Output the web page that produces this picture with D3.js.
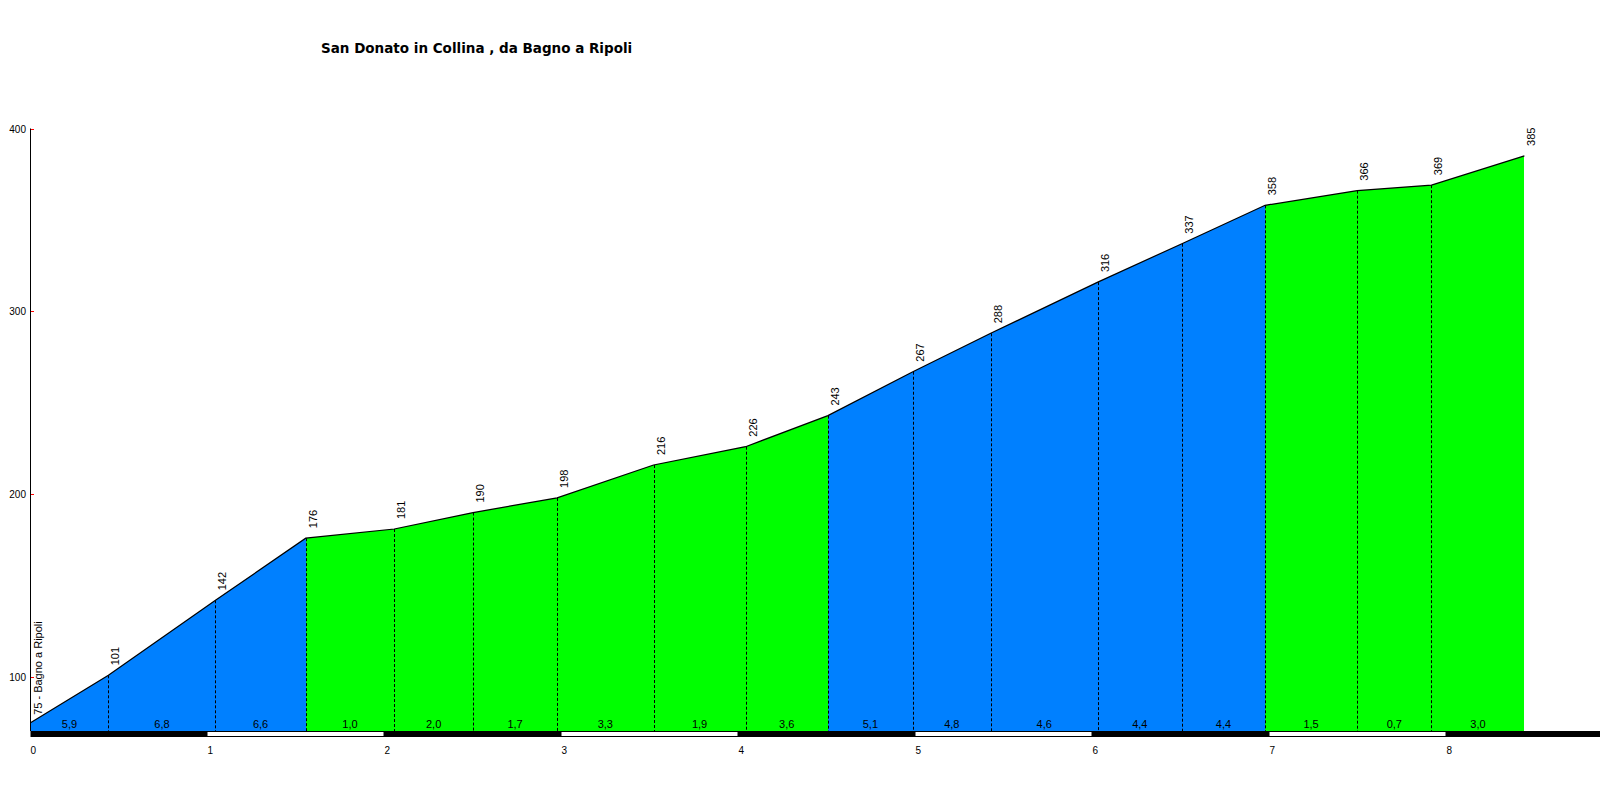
<!DOCTYPE html>
<meta charset="utf-8">
<html>
<head>
    <title>San Donato in Collina</title>
    <script src="https://d3js.org/d3.v7.min.js"></script>
    <style>
        body { margin: 0; background: #fff; }
        text { font-family: Arial, "Liberation Sans", sans-serif; }
    </style>
</head>
<body>
<script>
    // profile points: km from start and altitude (m)
    var dist = [0, 0.44, 1.045, 1.555, 2.055, 2.5, 2.975, 3.52, 4.04, 4.505, 4.985, 5.425, 6.03, 6.505, 6.975, 7.495, 7.915, 8.44];
    var elev = [75, 101, 142, 176, 181, 190, 198, 216, 226, 243, 267, 288, 316, 337, 358, 366, 369, 385];
    // gradient of each segment (%)
    var grade = [5.9, 6.8, 6.6, 1.0, 2.0, 1.7, 3.3, 1.9, 3.6, 5.1, 4.8, 4.6, 4.4, 4.4, 1.5, 0.7, 3.0];
    var startName = "Bagno a Ripoli";
    var title = "San Donato in Collina , da Bagno a Ripoli";
    var yTicks = [100, 200, 300, 400];
    var kmTicks = [0, 1, 2, 3, 4, 5, 6, 7, 8];

    var width = 1600, height = 800;

    var svg = d3.select("body").append("svg")
        .attr("width", width)
        .attr("height", height);

    var x = d3.scaleLinear().domain([0, 8]).range([30.5, 1446.5]);
    var y = d3.scaleLinear().domain([70, 400]).range([732, 128.5]);

    var color = d3.scaleThreshold()
        .domain([4])
        .range(["#00ff00", "#0080ff"]);

    var fmt = function (v) { return d3.format(".1f")(v).replace(".", ","); };

    var pts = dist.map(function (d, i) { return { km: d, h: elev[i] }; });
    var segs = grade.map(function (g, i) { return { a: pts[i], b: pts[i + 1], g: g }; });

    var area = d3.area()
        .x(function (d) { return x(d.km); })
        .y0(y(70))
        .y1(function (d) { return y(d.h); });

    // coloured segments
    svg.append("g").selectAll("path")
        .data(segs)
        .enter().append("path")
        .attr("d", function (d) { return area([d.a, d.b]); })
        .attr("fill", function (d) { return color(d.g); })
        .attr("shape-rendering", "crispEdges");

    // dashed dividers
    svg.append("g").selectAll("line")
        .data(pts.slice(1, -1))
        .enter().append("line")
        .attr("x1", function (d) { return Math.round(x(d.km)) + 0.5; })
        .attr("x2", function (d) { return Math.round(x(d.km)) + 0.5; })
        .attr("y1", function (d) { return y(d.h); })
        .attr("y2", 731)
        .attr("stroke", "#000")
        .attr("stroke-width", 1)
        .attr("stroke-dasharray", "3,2");

    // profile outline
    svg.append("path")
        .datum(pts)
        .attr("d", d3.line().x(function (d) { return x(d.km); }).y(function (d) { return y(d.h); }))
        .attr("fill", "none")
        .attr("stroke", "#000")
        .attr("stroke-width", 1.2);

    // gradient labels
    svg.append("g").selectAll("text")
        .data(segs)
        .enter().append("text")
        .attr("x", function (d) { return (x(d.a.km) + x(d.b.km)) / 2; })
        .attr("y", 728)
        .attr("text-anchor", "middle")
        .style("font-size", "11px")
        .text(function (d) { return fmt(d.g); });

    // altitude labels
    svg.append("g").selectAll("text")
        .data(pts)
        .enter().append("text")
        .attr("transform", function (d, i) {
            return "translate(" + (x(d.km) + 11) + "," + (y(d.h) - (i == 0 ? 8 : 10)) + ") rotate(-90)";
        })
        .style("font-size", "11px")
        .text(function (d, i) { return i == 0 ? d.h + " - " + startName : d.h; });

    // km bar
    svg.append("rect")
        .attr("x", x(0))
        .attr("y", 731)
        .attr("width", width - x(0))
        .attr("height", 6)
        .attr("fill", "#000");

    svg.append("g").selectAll("rect")
        .data(kmTicks.filter(function (k) { return k % 2 == 1; }))
        .enter().append("rect")
        .attr("x", function (k) { return x(k); })
        .attr("y", 732)
        .attr("width", function (k) { return x(k + 1) - x(k) - 1; })
        .attr("height", 4)
        .attr("fill", "#fff");

    svg.append("g").selectAll("text")
        .data(kmTicks)
        .enter().append("text")
        .attr("x", function (k) { return x(k); })
        .attr("y", 754)
        .style("font-size", "10px")
        .text(function (k) { return k; });

    // y axis
    svg.append("line")
        .attr("x1", 30.5).attr("x2", 30.5)
        .attr("y1", y(400)).attr("y2", 731)
        .attr("stroke", "#000");

    var yt = svg.append("g").selectAll("g")
        .data(yTicks)
        .enter().append("g")
        .attr("transform", function (d) { return "translate(0," + (Math.round(y(d)) + 0.5) + ")"; });

    yt.append("line")
        .attr("x1", 31).attr("x2", 34)
        .attr("stroke", "#ff0000");

    yt.append("text")
        .attr("x", 26)
        .attr("dy", "0.35em")
        .attr("text-anchor", "end")
        .style("font-size", "10px")
        .text(function (d) { return d; });

    // title
    svg.append("text")
        .attr("x", 321)
        .attr("y", 53)
        .style("font-family", "'DejaVu Sans', sans-serif")
        .style("font-size", "13.5px")
        .style("font-weight", "bold")
        .text(title);
</script>
</body>
</html>
